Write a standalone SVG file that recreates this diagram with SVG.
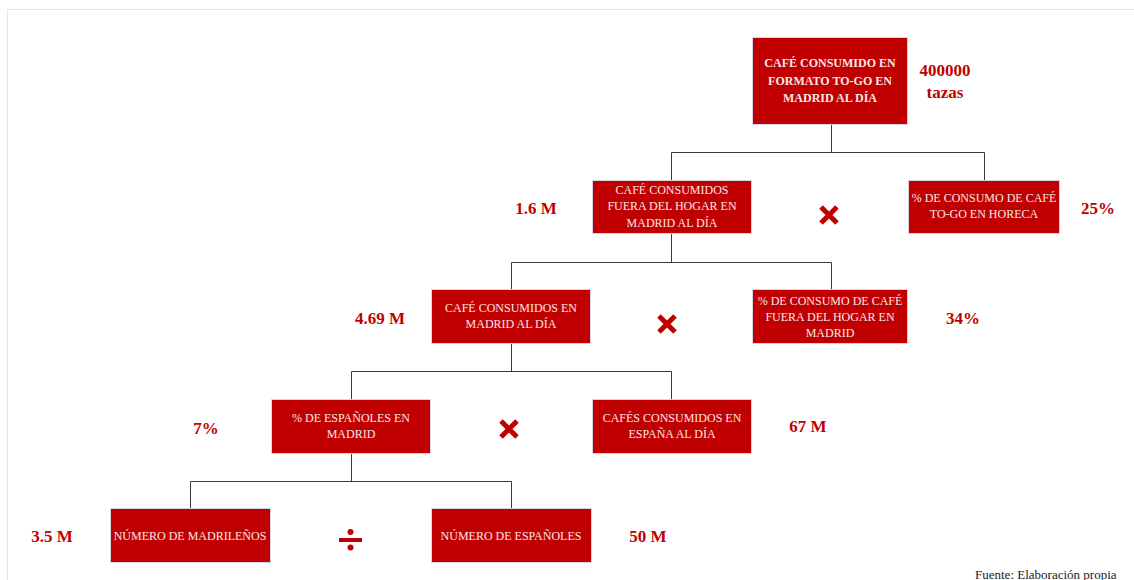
<svg xmlns="http://www.w3.org/2000/svg" width="1134" height="580" viewBox="0 0 1134 580">
<style>
.box{fill:#c00000;stroke:#d8d4e4;stroke-width:1}
.bt{font-family:"Liberation Serif","Times New Roman",serif;font-size:12px;fill:#fbe6e6;text-anchor:middle}
.bb{font-weight:bold}
.val{font-family:"Liberation Serif","Times New Roman",serif;font-size:17px;font-weight:bold;fill:#c00000;text-anchor:middle}
.con{fill:none;stroke:#3a3a3a;stroke-width:1}
.op{stroke:#c00000;stroke-width:5;stroke-linecap:butt}
</style>
<rect x="0" y="0" width="1134" height="580" fill="#ffffff"/>
<path d="M7.5,580 V9.5 H1134" fill="none" stroke="#dde6ee" stroke-width="1"/>
<g id="connectors">
<path class="con" d="M831.5,124 V152.5 M671.5,180 V152.5 H984.5 V180"/>
<path class="con" d="M671.5,233 V262.5 M511.5,289 V262.5 H831.5 V289"/>
<path class="con" d="M511.5,343 V371.5 M351.5,399 V371.5 H671.5 V399"/>
<path class="con" d="M351.5,453 V481.5 M190.5,508 V481.5 H511.5 V508"/>
</g>
<g id="n_top">
<rect class="box" x="752.5" y="37.5" width="155" height="87"/>
<text class="bt bb" x="830" y="67">CAFÉ CONSUMIDO EN</text>
<text class="bt bb" x="830" y="85">FORMATO TO-GO EN</text>
<text class="bt bb" x="830" y="102">MADRID AL DÍA</text>
<text class="val" x="945" y="76">400000</text>
<text class="val" x="945" y="98">tazas</text>
</g>
<g id="n_fuera">
<rect class="box" x="592.5" y="180.5" width="159" height="53"/>
<text class="bt" x="672" y="194">CAFÉ CONSUMIDOS</text>
<text class="bt" x="672" y="210">FUERA DEL HOGAR EN</text>
<text class="bt" x="672" y="227">MADRID AL DÍA</text>
<text class="val" x="536" y="214">1.6 M</text>
</g>
<g id="n_togo">
<rect class="box" x="908.5" y="180.5" width="151" height="53"/>
<text class="bt" x="984" y="202">% DE CONSUMO DE CAFÉ</text>
<text class="bt" x="984" y="218">TO-GO EN HORECA</text>
<text class="val" x="1098" y="214">25%</text>
</g>
<g id="n_madrid">
<rect class="box" x="431.5" y="289.5" width="159" height="54"/>
<text class="bt" x="511" y="312">CAFÉ CONSUMIDOS EN</text>
<text class="bt" x="511" y="328">MADRID AL DÍA</text>
<text class="val" x="380" y="324">4.69 M</text>
</g>
<g id="n_pctfuera">
<rect class="box" x="752.5" y="289.5" width="155" height="54"/>
<text class="bt" x="830" y="305">% DE CONSUMO DE CAFÉ</text>
<text class="bt" x="830" y="321">FUERA DEL HOGAR EN</text>
<text class="bt" x="830" y="337">MADRID</text>
<text class="val" x="963" y="324">34%</text>
</g>
<g id="n_pctesp">
<rect class="box" x="271.5" y="399.5" width="159" height="54"/>
<text class="bt" x="351" y="422">% DE ESPAÑOLES EN</text>
<text class="bt" x="351" y="438">MADRID</text>
<text class="val" x="206" y="434">7%</text>
</g>
<g id="n_espana">
<rect class="box" x="592.5" y="399.5" width="159" height="54"/>
<text class="bt" x="672" y="422">CAFÉS CONSUMIDOS EN</text>
<text class="bt" x="672" y="438">ESPAÑA AL DÍA</text>
<text class="val" x="808" y="432">67 M</text>
</g>
<g id="n_madrilenos">
<rect class="box" x="110.5" y="508.5" width="160" height="54"/>
<text class="bt" x="190" y="540">NÚMERO DE MADRILEÑOS</text>
<text class="val" x="52" y="542">3.5 M</text>
</g>
<g id="n_espanoles">
<rect class="box" x="431.5" y="508.5" width="160" height="54"/>
<text class="bt" x="511" y="540">NÚMERO DE ESPAÑOLES</text>
<text class="val" x="648" y="542">50 M</text>
</g>
<g id="operators">
<path class="op" d="M821,207 L837,223 M837,207 L821,223"/>
<path class="op" d="M659,316 L675,332 M675,316 L659,332"/>
<path class="op" d="M501,421 L517,437 M517,421 L501,437"/>
<rect x="339" y="538" width="23" height="4" fill="#c00000"/>
<circle cx="350.5" cy="532" r="3" fill="#c00000"/>
<circle cx="350.5" cy="547.5" r="3" fill="#c00000"/>
</g>
<text x="975" y="579" font-family="'Liberation Serif','Times New Roman',serif" font-size="13" fill="#222222">Fuente: Elaboración propia</text>
</svg>
